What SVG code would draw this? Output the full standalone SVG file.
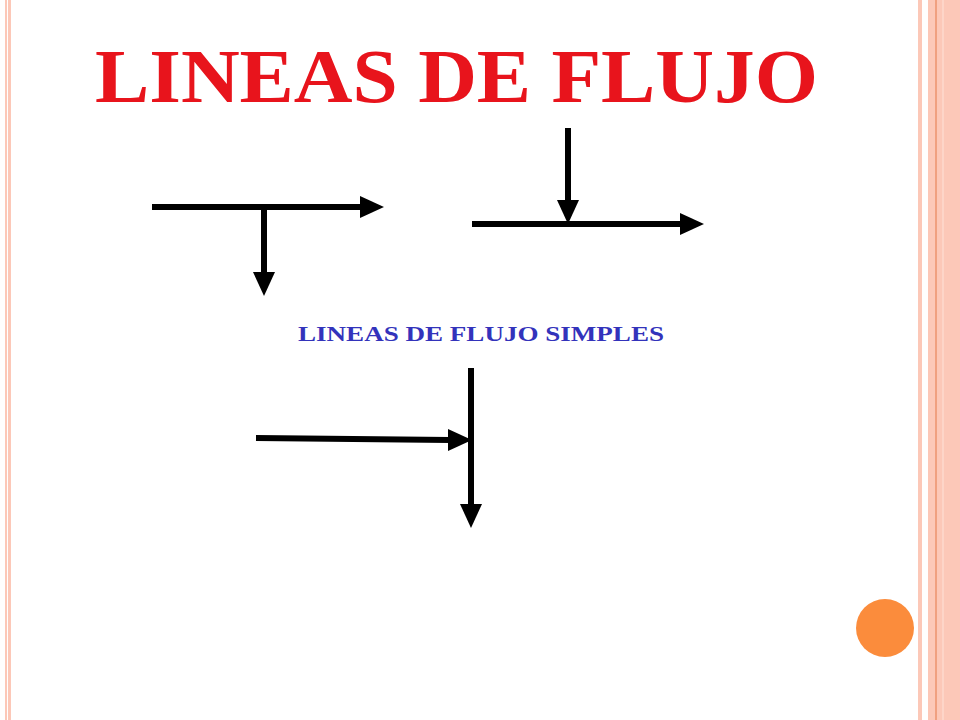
<svg xmlns="http://www.w3.org/2000/svg" width="960" height="720" viewBox="0 0 960 720">
<defs>
<style>
.ln{stroke:#000;stroke-width:6;fill:none}
.hd{fill:#000}
</style>
</defs>
<rect width="960" height="720" fill="#fff"/>
<g id="border">
<rect x="5" y="0" width="2" height="720" fill="#fcc8b8"/>
<rect x="8" y="0" width="3" height="720" fill="#fcc8b8"/>
<rect x="918" y="0" width="4" height="720" fill="#fcc8b8"/>
<rect x="928" y="0" width="32" height="720" fill="#fcc8b8"/>
<rect x="935" y="0" width="2" height="720" fill="#f0a080"/>
<rect x="942" y="0" width="2" height="720" fill="#fdd5c8"/>
<circle cx="885" cy="628" r="29" fill="#fb8c3c"/>
</g>
<text x="95" y="102" textLength="723" lengthAdjust="spacingAndGlyphs" font-family="Liberation Serif, serif" font-weight="bold" font-size="76" fill="#e8141c">LINEAS DE FLUJO</text>
<text x="298" y="341" textLength="366" lengthAdjust="spacingAndGlyphs" font-family="Liberation Serif, serif" font-weight="bold" font-size="21" fill="#3333bb">LINEAS DE FLUJO SIMPLES</text>
<g id="connectors">
<line class="ln" x1="152" y1="207" x2="362" y2="207"/>
<polygon class="hd" points="360,196 384,207 360,218"/>
<line class="ln" x1="264" y1="210" x2="264" y2="274"/>
<polygon class="hd" points="253,272 264,296 275,272"/>
<line class="ln" x1="568" y1="128" x2="568" y2="202"/>
<polygon class="hd" points="557,200 568,224 579,200"/>
<line class="ln" x1="472" y1="224" x2="682" y2="224"/>
<polygon class="hd" points="680,213 704,224 680,235"/>
<line class="ln" x1="256" y1="438" x2="450" y2="440"/>
<polygon class="hd" points="448,429 472,440 448,451"/>
<line class="ln" x1="471" y1="368" x2="471" y2="506"/>
<polygon class="hd" points="460,504 471,528 482,504"/>
</g>
</svg>
